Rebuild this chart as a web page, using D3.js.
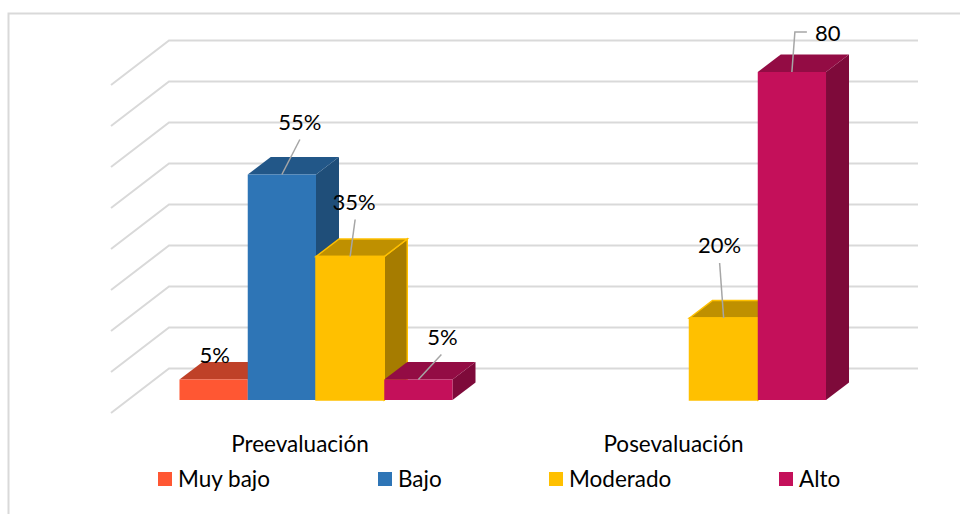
<!DOCTYPE html>
<html><head><meta charset="utf-8">
<script src="https://cdnjs.cloudflare.com/ajax/libs/d3/7.8.5/d3.min.js"></script>
<style>html,body{margin:0;padding:0;background:#fff}svg{display:block}text{font-family:Lato,"Open Sans",sans-serif;fill:#000}</style>
</head><body><svg id="c" width="960" height="514"></svg>
<script>
const categories = ["Preevaluación","Posevaluación"];
const seriesNames = ["Muy bajo","Bajo","Moderado","Alto"];
const preValues = [5,55,35,5];
const posValues = [null,null,20,80];
const valueLabels = [["5%","55%","35%","5%"],[null,null,"20%","80"]];
const gridTicks = [0,10,20,30,40,50,60,70,80];
const frontColors = ["#FF5733","#2E75B6","#FFC000","#C4105A"];
const topColors = ["#BF4128","#225788","#BF9000","#930C44"];
const sideColors = ["#A83A22","#1F4E79","#A67C00","#7E0A3A"];

const svg = d3.select("#c");
const x0 = d3.scaleBand().domain(categories).range([129.25,876.25]).paddingInner(.269).paddingOuter(.1345);
const x1 = d3.scaleBand().domain(seriesNames).range([0,x0.bandwidth()]);
const y = d3.scaleLinear().domain([0,80]).range([400,72]);
const depth = {dx:23,dy:-17.5}, wall = {x:169,dy:-31.5}, floor = {x:111,dy:13};

svg.append("path").attr("d","M8.5,514V13.5H960").attr("fill","none").attr("stroke","#d9d9d9").attr("stroke-width",2);

const grid = svg.append("g").attr("fill","none").attr("stroke","#d9d9d9").attr("stroke-width",2);
grid.selectAll("path").data(gridTicks).join("path")
  .attr("d",t=>{const b=y(t)+wall.dy;return `M${floor.x},${y(t)+floor.dy}L${wall.x},${b}H918`;});

const rows = [preValues,posValues];
const bars = [];
rows.forEach((vals,i)=>vals.forEach((v,j)=>{ if(v!=null) bars.push({cat:categories[i],name:seriesNames[j],v,j,label:valueLabels[i][j]}); }));
const g = svg.append("g").attr("stroke-width",1.5);
bars.forEach(b=>{
  const l=x0(b.cat)+x1(b.name), r=l+x1.bandwidth(), t=y(b.v), bt=y(0);
  const st=b.j===2?frontColors[2]:"none";
  g.append("path").attr("d",`M${r},${t}L${r+depth.dx},${t+depth.dy}V${bt+depth.dy}L${r},${bt}Z`).attr("fill",sideColors[b.j]).attr("stroke",st);
  g.append("path").attr("d",`M${l},${t}L${l+depth.dx},${t+depth.dy}H${r+depth.dx}L${r},${t}Z`).attr("fill",topColors[b.j]).attr("stroke",st);
  g.append("rect").attr("x",l).attr("y",t).attr("width",r-l).attr("height",bt-t).attr("fill",frontColors[b.j]).attr("stroke",st);
});

// label offsets from the bar's top centre
const labelPos = {
  "Preevaluación|Muy bajo":{dx:1,dy:-17,lead:null},
  "Preevaluación|Bajo":{dx:18,dy:-45,lead:[18,-35]},
  "Preevaluación|Moderado":{dx:4,dy:-47,lead:[5,-37]},
  "Preevaluación|Alto":{dx:24,dy:-35,lead:[23,-25]},
  "Posevaluación|Moderado":{dx:-4,dy:-65,lead:[-4,-55]},
  "Posevaluación|Alto":{dx:36,dy:-31,lead:null}
};
const lab = svg.append("g").attr("font-size",22).attr("text-anchor","middle");
bars.forEach(b=>{
  const c=x0(b.cat)+x1(b.name)+x1.bandwidth()/2, t=y(b.v), p=labelPos[b.cat+"|"+b.name];
  if(p.lead) lab.append("line").attr("x1",c+p.lead[0]).attr("y1",t+p.lead[1]).attr("x2",c).attr("y2",t).attr("stroke","#a6a6a6").attr("stroke-width",1.5);
  else if(b.label==="80") lab.append("path").attr("d",`M${c},${t}L${c+3},${t-40}H${c+15}`).attr("fill","none").attr("stroke","#a6a6a6").attr("stroke-width",1.5);
  lab.append("text").attr("x",c+p.dx).attr("y",t+p.dy).text(b.label);
});

svg.append("g").attr("font-size",22.5).attr("text-anchor","middle").selectAll("text").data(categories).join("text")
  .attr("x",d=>x0(d)+x0.bandwidth()/2-16).attr("y",452).text(d=>d);

const legendX = d3.scaleOrdinal().domain(seriesNames).range([158,378,549,779]);
const lg = svg.append("g").selectAll("g").data(seriesNames).join("g").attr("transform",d=>`translate(${legendX(d)},472)`);
lg.append("rect").attr("width",14).attr("height",14).attr("fill",(d,i)=>frontColors[i]);
lg.append("text").attr("x",20).attr("y",15).attr("font-size",22.5).text(d=>d);
</script></body></html>
